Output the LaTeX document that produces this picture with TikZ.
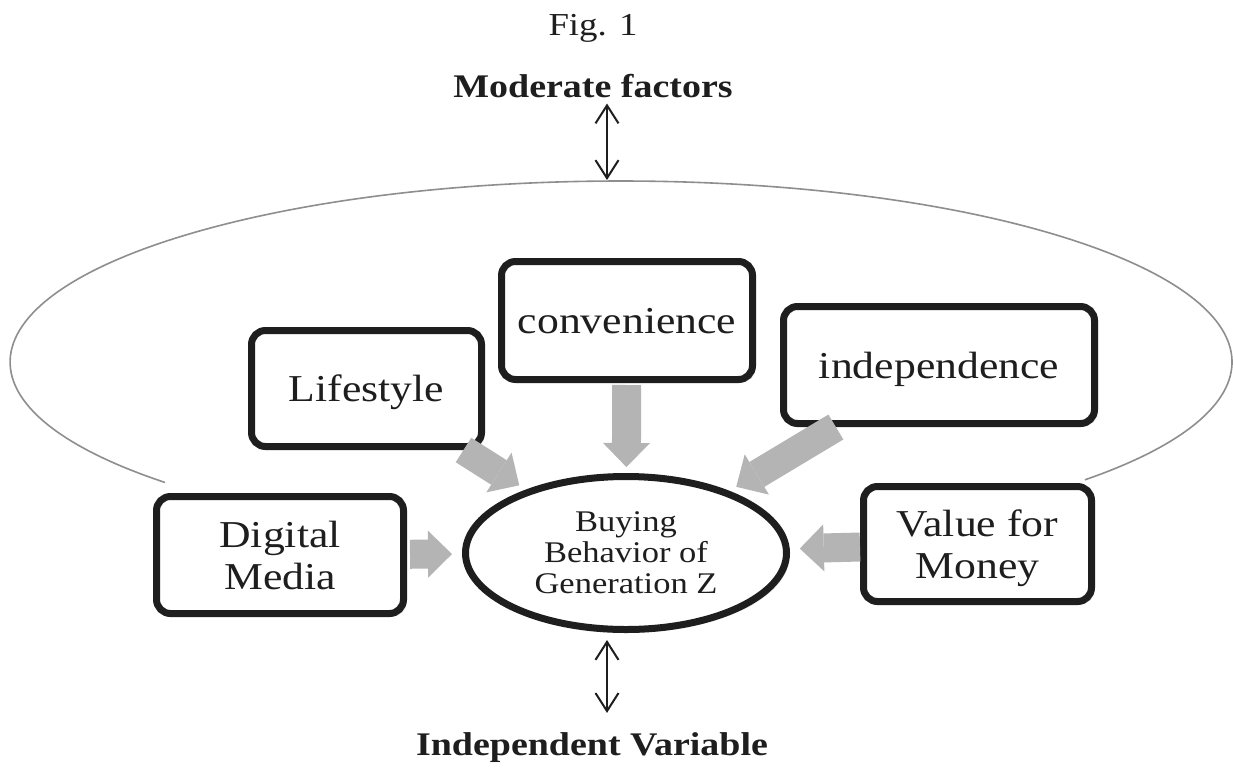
\documentclass[tikz,border=0pt]{standalone}
\usepackage{fontspec}
\setmainfont{Liberation Serif}[FakeStretch=1.15]
\usetikzlibrary{arrows.meta,shapes.geometric,shadows}
\definecolor{ink}{HTML}{1E1E1E}
\definecolor{blockgray}{HTML}{B4B4B4}
\definecolor{ringgray}{HTML}{8E8E8E}
\begin{document}
\begin{tikzpicture}[x=1pt,y=-1pt,
  factor/.style={draw=ink, line width=7pt, rounded corners=14pt, fill=white,
    inner sep=0pt, align=center, text=ink, text depth=0pt,
    font=\fontsize{38}{42}\selectfont,
    drop shadow={opacity=0.22, shadow xshift=3pt, shadow yshift=-3pt}},
  core/.style={ellipse, draw=ink, line width=7pt, fill=white, inner sep=0pt,
    minimum width=321pt, minimum height=153pt, align=center, text=ink,
    text depth=0pt, font=\fontsize{30}{31}\selectfont,
    drop shadow={opacity=0.22, shadow xshift=3pt, shadow yshift=-3pt}},
  blk/.style={draw=blockgray, line width=29pt,
    -{Triangle[width=47pt,length=24pt,line width=0pt]}, shorten >=8pt},
  dbl/.style={draw=ink, line width=2pt,
    {Straight Barb[length=18pt,width=23pt]}-{Straight Barb[length=18pt,width=23pt]}},
  caption/.style={inner sep=0pt, text=ink, anchor=base}
]
\fill[white] (0,0) rectangle (1233,774);
\useasboundingbox (0,0) rectangle (1233,774);

% thin outer ring enclosing the factors (open at the bottom)
\coordinate (ringstart) at (164.9,482.4);
\coordinate (ringtop) at (607,181);
\draw[ringgray, line width=1.6pt] (ringstart)
  arc[start angle=221.7, end angle=-40.6, x radius=611pt, y radius=181pt];

% headings
\node[caption, font=\fontsize{32}{34}\selectfont] (fig) at (593,35) {Fig. 1};
\node[caption, font=\bfseries\fontsize{33}{35}\selectfont] (mod) at (593,97) {Moderate factors};
\node[caption, font=\bfseries\fontsize{33}{35}\selectfont] (iv) at (592,755) {Independent Variable};

% factor boxes
\node[factor, minimum width=230pt, minimum height=116pt] (life) at (366.5,388.5) {Lifestyle};
\node[factor, minimum width=247pt, minimum height=117pt] (dm) at (280,555) {Digital\\Media};
\node[factor, minimum width=251pt, minimum height=118pt] (cv) at (627,320.5) {convenience};
\node[factor, minimum width=311pt, minimum height=117pt] (ind) at (939,365) {independence};
\node[factor, minimum width=228pt, minimum height=115pt] (vm) at (977.5,544) {Value for\\Money};

% central construct
\node[core] (bb) at (626,553) {Buying\\Behavior of\\Generation Z};

% block arrows into the construct
\draw[blk, shorten <=3pt, shorten >=10pt] (dm) -- (bb);
\draw[blk, shorten >=10pt] (vm) -- (bb);
\draw[blk, shorten <=2pt, shorten >=6pt] (cv) -- (bb);
\draw[blk] (life) -- (bb);
\draw[blk] (ind) -- (bb);

% two-way links to the headings
\draw[dbl, shorten <=6pt, shorten >=1pt] (mod.south -| ringtop) -- (ringtop);
\draw[dbl, shorten <=7pt, shorten >=19pt] (bb.south -| ringtop) -- (iv.north -| ringtop);
\end{tikzpicture}
\end{document}
